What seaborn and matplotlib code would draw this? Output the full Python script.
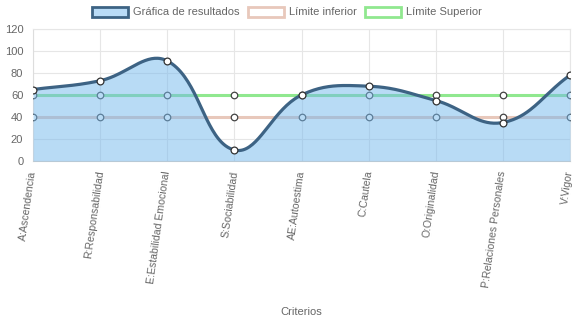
import numpy as np
import pandas as pd
import matplotlib
matplotlib.use("Agg")
import matplotlib.pyplot as plt
import seaborn as sns
from matplotlib.patches import Patch

categories = ["A:Ascendencia", "R:Responsabilidad", "E:Estabilidad Emocional",
              "S:Sociabilidad", "AE:Autoestima", "C:Cautela", "O:Originalidad",
              "P:Relaciones Personales", "V:Vigor"]
resultados = [65, 73, 91, 10, 60, 68, 55, 35, 78]
limite_inferior = [40, 40, 40, 40, 40, 40, 40, 40, 40]
limite_superior = [60, 60, 60, 60, 60, 60, 60, 60, 60]
yticks = [0, 20, 40, 60, 80, 100, 120]

sns.set_theme(style="white")
plt.rcParams["font.family"] = ["Liberation Sans", "DejaVu Sans"]

W, H = 574, 323
fig = plt.figure(figsize=(W / 100, H / 100), dpi=100)
L, R, T, B = 33, 570, 29, 161
ax = fig.add_axes([L / W, 1 - B / H, (R - L) / W, (B - T) / H])

x = np.arange(len(categories))
sx = (R - L) / (len(categories) - 1)
sy = (B - T) / 120.0


def chartjs_spline(xs, ys, t=0.4, n=40):
    px = np.asarray(xs, float) * sx
    py = np.asarray(ys, float) * sy
    m = len(px)
    cpp, cpn = [], []
    for i in range(m):
        pr = (px[max(i - 1, 0)], py[max(i - 1, 0)])
        nx = (px[min(i + 1, m - 1)], py[min(i + 1, m - 1)])
        cu = (px[i], py[i])
        d01 = np.hypot(cu[0] - pr[0], cu[1] - pr[1])
        d12 = np.hypot(nx[0] - cu[0], nx[1] - cu[1])
        tot = d01 + d12
        s01 = d01 / tot if tot else 0
        s12 = d12 / tot if tot else 0
        fa, fb = t * s01, t * s12
        cpp.append((cu[0] - fa * (nx[0] - pr[0]), cu[1] - fa * (nx[1] - pr[1])))
        cpn.append((cu[0] + fb * (nx[0] - pr[0]), cu[1] + fb * (nx[1] - pr[1])))
    outx, outy = [], []
    tt = np.linspace(0, 1, n)
    for i in range(m - 1):
        P0 = np.array([px[i], py[i]])
        P1 = np.array(cpn[i])
        P2 = np.array(cpp[i + 1])
        P3 = np.array([px[i + 1], py[i + 1]])
        pts = ((1 - tt)[:, None] ** 3 * P0 + 3 * ((1 - tt) ** 2 * tt)[:, None] * P1
               + 3 * ((1 - tt) * tt ** 2)[:, None] * P2 + (tt ** 3)[:, None] * P3)
        if i > 0:
            pts = pts[1:]
        outx.extend(pts[:, 0] / sx)
        outy.extend(pts[:, 1] / sy)
    return np.array(outx), np.array(outy)


df_lim = pd.DataFrame({"x": np.concatenate([x, x]),
                       "y": limite_inferior + limite_superior,
                       "serie": ["Límite inferior"] * len(x) + ["Límite Superior"] * len(x)})

c_inf = "#e8c8bb"
c_sup = "#90e88f"
c_line = "#3d6384"
c_fill = (0.45, 0.72, 0.93, 0.5)

# limit lines
sns.lineplot(data=df_lim, x="x", y="y", hue="serie", palette=[c_inf, c_sup],
             linewidth=2.2, ax=ax, legend=False, zorder=2, sort=False)
ax.scatter(x, limite_inferior, s=22, facecolor="white", edgecolor="#444", linewidth=0.9, zorder=3)
ax.scatter(x, limite_superior, s=22, facecolor="white", edgecolor="#444", linewidth=0.9, zorder=3)

# result curve
cx, cy = chartjs_spline(x, resultados)
ax.fill_between(cx, 0, cy, color=c_fill, linewidth=0, zorder=4)
ax.plot(cx, cy, color=c_line, linewidth=2.3, zorder=5, solid_capstyle="round")
sns.scatterplot(x=x, y=resultados, s=24, color="white", edgecolor="#333",
                linewidth=0.9, ax=ax, zorder=6, legend=False)

ax.set_xlim(0, len(categories) - 1)
ax.set_ylim(0, 120)
ax.set_xticks(x)
ax.set_xticklabels(categories, rotation=82, ha="right", va="center",
                   rotation_mode="anchor", fontsize=7.6, color="#666666")
ax.set_yticks(yticks)
ax.set_yticklabels([str(v) for v in yticks], fontsize=8.0, color="#666666")
ax.tick_params(axis="both", length=5, width=0.8, color="#dddddd", pad=2)
ax.tick_params(axis="x", pad=2)
ax.grid(True, color="#e6e6e6", linewidth=0.8)
ax.set_axisbelow(True)
for s in ax.spines.values():
    s.set_color("#e6e6e6")
    s.set_linewidth(0.8)
ax.spines["bottom"].set_color("#cfcfcf")
ax.spines["left"].set_color("#dddddd")
ax.set_xlabel("")
ax.set_ylabel("")

fig.text((L + R) / 2 / W, 1 - 312 / H, "Criterios", ha="center", va="center",
         fontsize=8.0, color="#666666")

handles = [Patch(facecolor="#b9dbf6", edgecolor=c_line, linewidth=2),
           Patch(facecolor="white", edgecolor=c_inf, linewidth=2),
           Patch(facecolor="white", edgecolor=c_sup, linewidth=2)]
labels = ["Gráfica de resultados", "Límite inferior", "Límite Superior"]
leg = fig.legend(handles, labels, loc="center", bbox_to_anchor=(0.5, 1 - 12 / H),
                 ncol=3, frameon=False, fontsize=8.0, handlelength=3.2,
                 handleheight=1.0, handletextpad=0.45, columnspacing=0.8,
                 borderaxespad=0)
for t in leg.get_texts():
    t.set_color("#666666")

fig.savefig("out.png", dpi=100)
